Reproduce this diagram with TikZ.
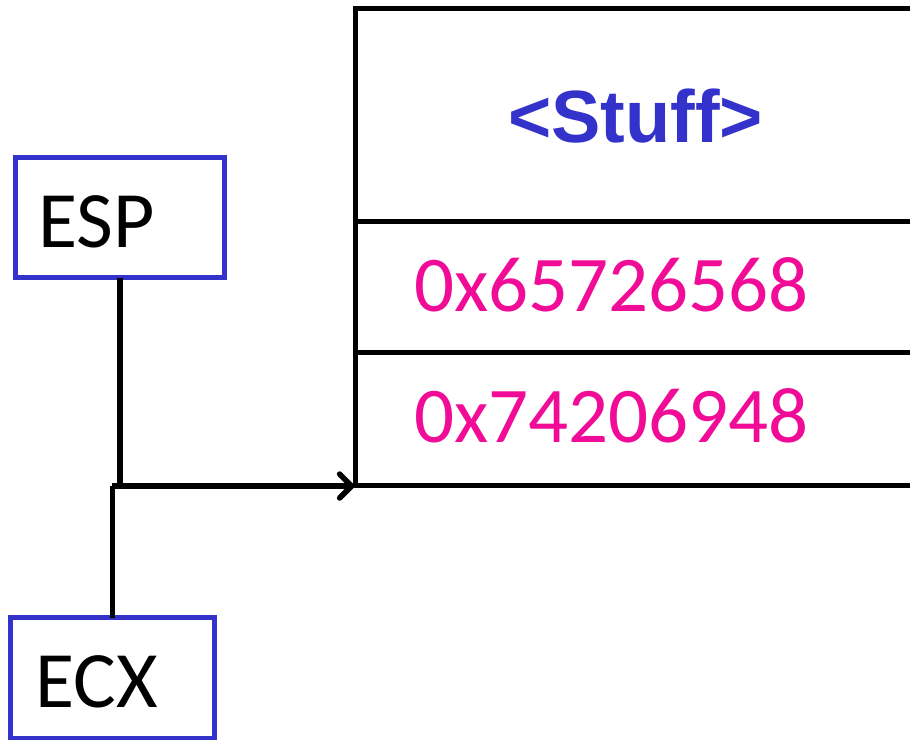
\documentclass[tikz,border=0pt]{standalone}
\usepackage{fontspec}
\newfontfamily\calfont{Carlito}
\newfontfamily\arialfont{Liberation Sans}
\usetikzlibrary{arrows.meta}
\definecolor{regblue}{RGB}{51,51,204}
\definecolor{hexpink}{RGB}{240,12,150}
\tikzset{
  regbox/.style={draw=regblue, line width=5pt, rectangle, inner sep=0pt, outer sep=0pt, anchor=north west},
  regtext/.style={font=\calfont\fontsize{80}{96}\selectfont, anchor=base west, inner sep=0pt},
  hextext/.style={font=\calfont\fontsize{79}{95}\selectfont, text=hexpink, anchor=center, inner sep=0pt},
  stufftext/.style={font=\arialfont\bfseries\fontsize{74}{88}\selectfont, text=regblue, anchor=center, inner sep=0pt},
  cell/.style={draw=black, line width=5pt},
  conn/.style={draw=black, line width=5.5pt},
  tip/.style={conn, -{Straight Barb[length=12pt,width=24pt,line cap=round]}}
}
\begin{document}
\begin{tikzpicture}[x=1pt,y=-1pt]
\useasboundingbox (0,0) rectangle (910,739);
% stack
\draw[cell] (920,8) -- (355.5,8) -- (355.5,485) -- (920,485);
\draw[cell] (355.5,221) -- (920,221);
\draw[cell] (355.5,352) -- (920,352);
\coordinate (sbl) at (355.5,486);
\node[stufftext] (stuff) at (635.5,116) {<Stuff>};
\node[hextext] (h1) at (611.5,284.5) {0x65726568};
\node[hextext] (h2) at (611.5,415.5) {0x74206948};
% registers
\node[regbox, minimum width=209.5pt, minimum height=120pt] (esp) at (15,157.5) {};
\node[regtext] (esplbl) at (38,247) {ESP};
\node[regbox, minimum width=204pt, minimum height=121pt] (ecx) at (10.5,617.5) {};
\node[regtext] (ecxlbl) at (35,707) {ECX};
% connectors
\coordinate (join) at (111.5,486);
\draw[conn] (esp.south) -- (esp.south |- join);
\draw[conn] (ecx.north) -- (ecx.north |- join);
\draw[tip] (join) -- (sbl);
\end{tikzpicture}
\end{document}
